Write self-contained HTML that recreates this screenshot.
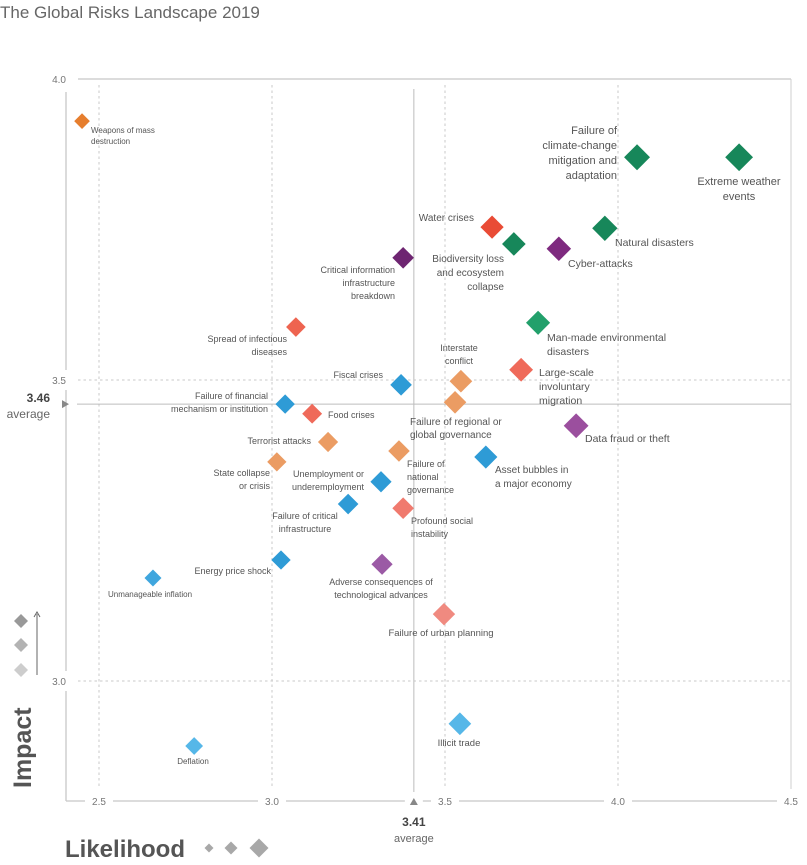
<!DOCTYPE html>
<html><head><meta charset="utf-8">
<style>
html,body{margin:0;padding:0;background:#fff;}
body{width:807px;height:860px;overflow:hidden;font-family:"Liberation Sans",sans-serif;}
svg text{font-family:"Liberation Sans",sans-serif;}
</style></head>
<body>
<svg id="chart" width="807" height="860" viewBox="0 0 807 860" xmlns="http://www.w3.org/2000/svg">
<text x="0" y="18" font-size="17" fill="#666">The Global Risks Landscape 2019</text>
<g id="grid"></g>
<g id="marks"></g>
<g id="labels"></g>
</svg>
<script>
const risks = ["Weapons of mass destruction","Failure of climate-change mitigation and adaptation","Extreme weather events","Water crises","Biodiversity loss and ecosystem collapse","Natural disasters","Cyber-attacks","Critical information infrastructure breakdown","Spread of infectious diseases","Man-made environmental disasters","Large-scale involuntary migration","Interstate conflict","Fiscal crises","Failure of regional or global governance","Failure of financial mechanism or institution","Food crises","Data fraud or theft","Terrorist attacks","Failure of national governance","Asset bubbles in a major economy","State collapse or crisis","Unemployment or underemployment","Failure of critical infrastructure","Profound social instability","Energy price shock","Adverse consequences of technological advances","Unmanageable inflation","Failure of urban planning","Illicit trade","Deflation"];
const likelihood = [2.451,4.055,4.350,3.636,3.699,3.962,3.829,3.379,3.069,3.769,3.720,3.546,3.373,3.529,3.038,3.116,3.879,3.162,3.367,3.618,3.014,3.315,3.220,3.379,3.026,3.318,2.656,3.497,3.543,2.775];
const impact = [3.930,3.870,3.870,3.754,3.726,3.752,3.718,3.703,3.588,3.595,3.517,3.498,3.492,3.463,3.460,3.444,3.424,3.397,3.382,3.372,3.364,3.331,3.294,3.287,3.201,3.194,3.171,3.111,2.929,2.892];
const xTicks = [2.5,3.0,3.5,4.0,4.5];
const yTicks = [3.0,3.5,4.0];
const avgLikelihood = 3.41;
const avgImpact = 3.46;

const colors = ["#e67e2e","#17875a","#17875a","#e94b35","#17875a","#17875a","#7e2a7f","#6e2571","#ee6450","#22a06b","#ef6a5a","#eb9c63","#2e9bd6","#eb9c63","#2e9bd6","#ef6a5a","#9b4f9e","#eb9c63","#eb9c63","#2e9bd6","#eb9c63","#2e9bd6","#2e9bd6","#f07a6e","#2e9bd6","#9b5aa5","#3fa6de","#f08a80","#56b7e8","#56b7e8"];
const labelLayout = [
 ["start",91,133,8,11,["Weapons of mass","destruction"]],
 ["end",617,134,11,15,["Failure of","climate-change","mitigation and","adaptation"]],
 ["middle",739,185,11,15,["Extreme weather","events"]],
 ["end",474,221,10,14,["Water crises"]],
 ["end",504,262,10,14,["Biodiversity loss","and ecosystem","collapse"]],
 ["start",615,246,10.5,14,["Natural disasters"]],
 ["start",568,267,10.5,14,["Cyber-attacks"]],
 ["end",395,273,9,13,["Critical information","infrastructure","breakdown"]],
 ["end",287,342,9,13,["Spread of infectious","diseases"]],
 ["start",547,341,10.5,14,["Man-made environmental","disasters"]],
 ["start",539,376,10.5,14,["Large-scale","involuntary","migration"]],
 ["middle",459,351,9,13,["Interstate","conflict"]],
 ["end",383,378,9,13,["Fiscal crises"]],
 ["start",410,425,10,13,["Failure of regional or","global governance"]],
 ["end",268,399,9,13,["Failure of financial","mechanism or institution"]],
 ["start",328,418,9,13,["Food crises"]],
 ["start",585,442,10.5,14,["Data fraud or theft"]],
 ["end",311,444,9,13,["Terrorist attacks"]],
 ["start",407,467,9,13,["Failure of","national","governance"]],
 ["start",495,473,10,14,["Asset bubbles in","a major economy"]],
 ["end",270,476,9,13,["State collapse","or crisis"]],
 ["end",364,477,9,13,["Unemployment or","underemployment"]],
 ["middle",305,519,9,13,["Failure of critical","infrastructure"]],
 ["start",411,524,9,13,["Profound social","instability"]],
 ["end",271,574,9,13,["Energy price shock"]],
 ["middle",381,585,9,13,["Adverse consequences of","technological advances"]],
 ["middle",150,597,8,11,["Unmanageable inflation"]],
 ["middle",441,636,9.5,13,["Failure of urban planning"]],
 ["middle",459,746,9.5,13,["Illicit trade"]],
 ["middle",193,764,8,11,["Deflation"]]
];

const NS="http://www.w3.org/2000/svg";
function xs(v){return 99+(v-2.5)*346;}
function ys(v){return 79+(4.0-v)*602;}
function mk(tag,attrs,parent){const e=document.createElementNS(NS,tag);for(const k in attrs)e.setAttribute(k,attrs[k]);parent.appendChild(e);return e;}
const grid=document.getElementById('grid');
const marks=document.getElementById('marks');
const labels=document.getElementById('labels');
const L=66,R=xs(4.5),T=ys(4.0),B=801;

let e=mk('line',{x1:78,y1:T,x2:R,y2:T,stroke:'#c8c8c8','stroke-width':1.3},grid);


e=mk('line',{x1:L,y1:92,x2:L,y2:B,stroke:'#cfcfcf','stroke-width':1.5},grid);


e=mk('line',{x1:R,y1:T,x2:R,y2:B-12,stroke:'#cfcfcf','stroke-width':1},grid);


e=mk('line',{x1:L,y1:B,x2:R+6,y2:B,stroke:'#c8c8c8','stroke-width':1.3},grid);



xTicks.forEach(t=>{
  const x=xs(t);
  if(t<4.5){
    const g=mk('line',{x1:x,y1:T+6,x2:x,y2:B-12,stroke:'#c8c8c8','stroke-width':1,'stroke-dasharray':'2.5,3'},grid);
    
    
  }
  mk('rect',{x:x-14,y:B-5,width:28,height:10,fill:'#fff'},grid);
  const tx=mk('text',{x:x,y:B+4,'font-size':10,fill:'#777','text-anchor':'middle'},grid);
  tx.textContent=t.toFixed(1);
  
  
});
yTicks.forEach(t=>{
  const y=ys(t);
  if(t<4.0){
    const g=mk('line',{x1:78,y1:y,x2:R,y2:y,stroke:'#c8c8c8','stroke-width':1,'stroke-dasharray':'2.5,3'},grid);
    
    
    mk('rect',{x:L-3,y:y-10,width:6,height:20,fill:'#fff'},grid);
  }
  const tx=mk('text',{x:L,y:y+4,'font-size':10,fill:'#777','text-anchor':'end'},grid);
  tx.textContent=t.toFixed(1);
  
  
});
const ax=xs(avgLikelihood), ay=ys(avgImpact);
e=mk('line',{x1:ax,y1:T+10,x2:ax,y2:B-9,stroke:'#bdbdbd','stroke-width':1},grid);


e=mk('line',{x1:L+11,y1:ay,x2:R,y2:ay,stroke:'#bdbdbd','stroke-width':1},grid);


mk('rect',{x:ax-9,y:B-4,width:18,height:8,fill:'#fff'},grid);
e=mk('polygon',{points:`${ax-4},${B+4} ${ax+4},${B+4} ${ax},${B-3}`,fill:'#888'},grid);


e=mk('polygon',{points:`${L-4},${ay-4} ${L-4},${ay+4} ${L+3},${ay}`,fill:'#888'},grid);


e=mk('text',{x:ax,y:B+25,'font-size':12,'font-weight':'bold',fill:'#444','text-anchor':'middle'},grid);
e.textContent=avgLikelihood.toFixed(2);


e=mk('text',{x:ax,y:B+41,'font-size':11,fill:'#666','text-anchor':'middle'},grid);
e.textContent='average';


e=mk('text',{x:50,y:ay-2,'font-size':12,'font-weight':'bold',fill:'#444','text-anchor':'end'},grid);
e.textContent=avgImpact.toFixed(2);


e=mk('text',{x:50,y:ay+14,'font-size':12,fill:'#666','text-anchor':'end'},grid);
e.textContent='average';



e=mk('text',{x:0,y:0,'font-size':25,'font-weight':'bold',fill:'#555',transform:'translate(31,788) rotate(-90)'},grid);
e.textContent='Impact';


e=mk('text',{x:65,y:857,'font-size':24,'font-weight':'bold',fill:'#555'},grid);
e.textContent='Likelihood';


e=mk('line',{x1:37,y1:675,x2:37,y2:614,stroke:'#666','stroke-width':1},grid);


mk('polyline',{points:'34,617 37,612 40,617',fill:'none',stroke:'#666','stroke-width':1},grid);
[[21,621,'#999'],[21,645,'#b3b3b3'],[21,670,'#cdcdcd']].forEach(p=>{
  const d=mk('polygon',{points:`${p[0]},${p[1]-7} ${p[0]+7},${p[1]} ${p[0]},${p[1]+7} ${p[0]-7},${p[1]}`,fill:p[2]},grid);
  
  
});
[[209,848,4.5],[231,848,6.5],[259,848,9.5]].forEach(p=>{
  const d=mk('polygon',{points:`${p[0]},${p[1]-p[2]} ${p[0]+p[2]},${p[1]} ${p[0]},${p[1]+p[2]} ${p[0]-p[2]},${p[1]}`,fill:'#a8a8a8'},grid);
  
  
});

risks.forEach((name,i)=>{
  const cx=xs(likelihood[i]), cy=ys(impact[i]);
  const h=Math.max(7.5, 8+(likelihood[i]-2.5)*3.2);
  const d=mk('polygon',{points:`${cx},${cy-h} ${cx+h},${cy} ${cx},${cy+h} ${cx-h},${cy}`,fill:colors[i]},marks);
  
  
  const t=document.createElementNS(NS,'title');t.textContent=name;d.appendChild(t);
  const lay=labelLayout[i];
  const tx=mk('text',{x:lay[1],y:lay[2],'font-size':lay[3],fill:'#555','text-anchor':lay[0]},labels);
  
  
  lay[5].forEach((ln,j)=>{
    const s=mk('tspan',{x:lay[1],y:lay[2]+j*lay[4]},tx);
    s.textContent=ln;
  });
});
</script>
</body></html>
